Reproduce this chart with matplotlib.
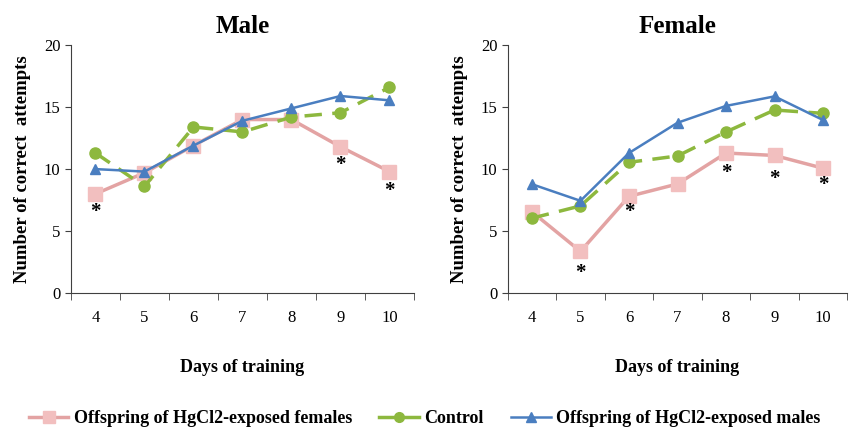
import numpy as np
import matplotlib
matplotlib.use('Agg')
import matplotlib.pyplot as plt
from matplotlib.lines import Line2D

plt.rcParams['font.family'] = ['Liberation Serif', 'DejaVu Serif']

days = [4, 5, 6, 7, 8, 9, 10]

# Male panel
male_fem_off = [8.0, 9.7, 11.9, 14.0, 14.0, 11.8, 9.8]
male_control = [11.3, 8.6, 13.4, 13.0, 14.2, 14.55, 16.6]
male_male_off = [10.0, 9.8, 11.9, 13.9, 14.9, 15.9, 15.55]
male_star_x = [4, 9, 10]
male_star_y = [6.5, 10.3, 8.2]

# Female panel
fem_fem_off = [6.55, 3.36, 7.8, 8.8, 11.3, 11.1, 10.07]
fem_control = [6.04, 7.03, 10.55, 11.06, 13.0, 14.77, 14.5]
fem_male_off = [8.78, 7.44, 11.3, 13.74, 15.1, 15.87, 13.96]
fem_star_x = [5, 6, 8, 9, 10]
fem_star_y = [1.6, 6.5, 9.7, 9.2, 8.7]

labels = ['Offspring of HgCl2-exposed females', 'Control', 'Offspring of HgCl2-exposed males']
pink_line, pink_mark = '#E3A3A3', '#F2BFBF'
green = '#8DB83E'
blue = '#4A7EC0'

fig = plt.figure(figsize=(8.49, 4.28), dpi=100, facecolor='white')
ax1 = fig.add_axes([0.0836, 0.3154, 0.404, 0.579])
ax2 = fig.add_axes([0.598, 0.3154, 0.40, 0.579])


def draw(ax, title, fo, co, mo, sx, sy):
    ax.plot(days, fo, color=pink_line, lw=2.5, marker='s', ms=10,
            mfc=pink_mark, mec=pink_mark, zorder=2)
    ax.plot(days, co, color=green, lw=2.5, ls=(0, (5, 3)), marker='o', ms=8,
            mfc=green, mec=green, zorder=3)
    ax.plot(days, mo, color=blue, lw=1.8, marker='^', ms=7,
            mfc=blue, mec=blue, zorder=4)
    for x, y in zip(sx, sy):
        ax.text(x, y, '*', ha='center', va='center', fontsize=15, fontweight='bold')
    ax.set_xlim(3.5, 10.5)
    ax.set_ylim(0, 20)
    ax.set_yticks([0, 5, 10, 15, 20])
    ax.set_xticks(days)
    ax.set_xticks(np.arange(3.5, 10.6, 1), minor=True)
    ax.tick_params(axis='x', which='major', length=0, pad=12, labelsize=12)
    ax.tick_params(axis='x', which='minor', length=5, direction='out', color='#404040')
    ax.tick_params(axis='y', length=4, direction='out', color='#404040', labelsize=12)
    for s in ['top', 'right']:
        ax.spines[s].set_visible(False)
    for s in ['left', 'bottom']:
        ax.spines[s].set_color('#404040')
    ax.set_title(title, fontsize=18, fontweight='bold', pad=9)
    ax.set_xlabel('Days of training', fontsize=13, fontweight='bold', labelpad=24)
    ax.set_ylabel('Number of correct  attempts', fontsize=13.5, fontweight='bold', labelpad=9)


draw(ax1, 'Male', male_fem_off, male_control, male_male_off, male_star_x, male_star_y)
draw(ax2, 'Female', fem_fem_off, fem_control, fem_male_off, fem_star_x, fem_star_y)

handles = [
    Line2D([], [], color=pink_line, lw=2.5, marker='s', ms=8, mfc=pink_mark, mec=pink_mark),
    Line2D([], [], color=green, lw=2.5, marker='o', ms=7, mfc=green, mec=green),
    Line2D([], [], color=blue, lw=1.8, marker='^', ms=7, mfc=blue, mec=blue),
]
fig.legend(handles, labels, loc='center', bbox_to_anchor=(0.5, 0.022), ncol=3,
           frameon=False, handlelength=2.2, handletextpad=0.3, columnspacing=1.5,
           prop={'size': 13, 'weight': 'bold'})

fig.savefig('out.png', dpi=100, facecolor='white')
